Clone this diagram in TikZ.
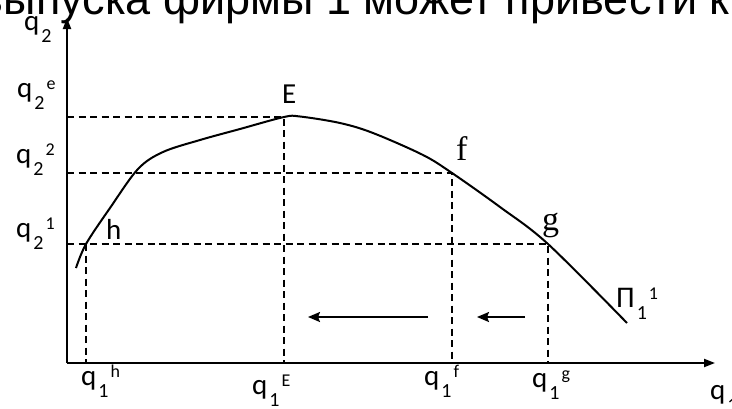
\documentclass[tikz,border=0pt]{standalone}
\usepackage{fontspec}
\setmainfont{Carlito}
\newfontfamily\headfont{Liberation Sans}
\newfontfamily\romfont{Liberation Serif}
\usetikzlibrary{arrows.meta}

% letter with a lowered index and a raised index after it
\newcommand{\qlab}[3]{#1\hspace{2pt}\raisebox{-12pt}{\fontsize{20}{20}\selectfont #2}\hspace{2pt}\raisebox{8pt}{\fontsize{18}{18}\selectfont #3}}

\begin{document}
\begin{tikzpicture}[x=1pt, y=-1pt,
  axis/.style={line width=2pt, -{Triangle[length=11pt,width=8pt]}},
  guide/.style={line width=1.4pt, dash pattern=on 7pt off 4.5pt},
  lbl/.style={inner sep=0pt, anchor=base west, font=\fontsize{29}{29}\selectfont},
  romlbl/.style={inner sep=0pt, anchor=base west, font=\romfont\fontsize{34}{34}\selectfont},
  shiftarrow/.style={line width=2pt, -{Stealth[length=12pt,width=10pt,inset=2pt]}}]
  \useasboundingbox (0,0) rectangle (732,408);

  % heading line, cut by the page edge
  \node[inner sep=0pt, anchor=base west, font=\headfont\fontsize{45}{45}\selectfont] (head) at (163,14) {\llap{выпуска }фирмы 1 может привести к};

  % axes
  \coordinate (O) at (67,363);
  \coordinate (ytop) at (67,18);
  \coordinate (xend) at (715,363);
  \draw[axis] (O) -- (ytop);
  \draw[axis] (O) -- (xend);

  % points on the curve
  \coordinate (h) at (86,244);
  \coordinate (E) at (284,117);
  \coordinate (f) at (452,173);
  \coordinate (g) at (548,244);

  % reaction curve
  \draw[line width=2pt] plot[smooth, tension=0.55] coordinates {(76,268) (h) (110,208) (138,169) (163,152) (200,140) (240,129) (E) (300,116.5) (340,123) (373,133) (423,155) (f) (500,207) (g) (627,323)};

  % guide lines
  \draw[guide] (O |- E) -- (E) -- (E |- O);
  \draw[guide] (O |- f) -- (f) -- (f |- O);
  \draw[guide] (O |- g) -- (g) -- (g |- O);
  \draw[guide] (h) -- (h |- O);

  % shift arrows
  \coordinate (a1s) at (428,317);
  \coordinate (a1e) at (308,317);
  \coordinate (a2s) at (525,317);
  \coordinate (a2e) at (477,317);
  \draw[shiftarrow] (a1s) -- (a1e);
  \draw[shiftarrow] (a2s) -- (a2e);

  % axis labels
  \node[lbl] (lq2) at (24,30) {\qlab{q}{2}{}};
  \node[lbl] (lq2e) at (17,97) {\qlab{q}{2}{e}};
  \node[lbl] (lq22) at (16,163) {\qlab{q}{2}{2}};
  \node[lbl] (lq21) at (16,237) {\qlab{q}{2}{1}};
  \node[lbl] (lq1h) at (81,385) {\qlab{q}{1}{h}};
  \node[lbl] (lq1E) at (252,394) {\qlab{q}{1}{E}};
  \node[lbl] (lq1f) at (424,385) {\qlab{q}{1}{f}};
  \node[lbl] (lq1g) at (532,387) {\qlab{q}{1}{g}};
  \node[lbl] (lq1) at (710,399) {\qlab{q}{1}{}};

  % point labels
  \node[lbl] (lE) at (282,103) {E};
  \node[lbl] (lh) at (106,239) {h};
  \node[romlbl] (lf) at (456,160) {f};
  \node[romlbl] (lg) at (542,230) {g};
  \node[lbl, font=\fontsize{30}{30}\selectfont] (lPi) at (616,307) {\qlab{П}{1}{1}};
\end{tikzpicture}
\end{document}
